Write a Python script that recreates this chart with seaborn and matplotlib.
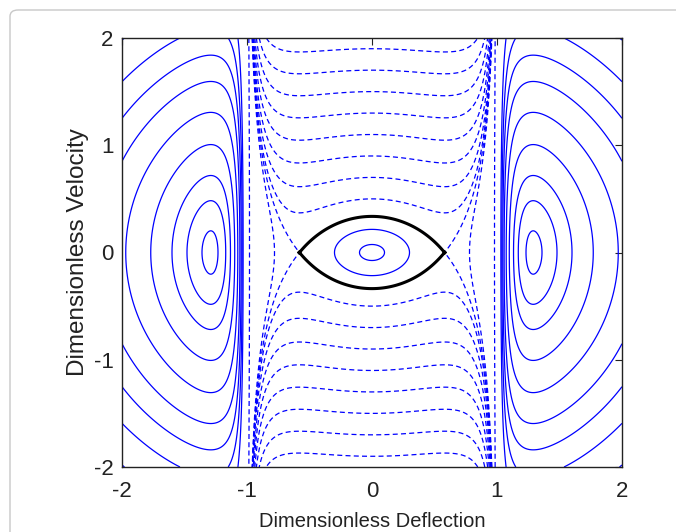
import numpy as np
import matplotlib
matplotlib.use("Agg")
import matplotlib.pyplot as plt
import seaborn as sns
from matplotlib.patches import FancyBboxPatch

# ---------------- data ----------------
x_label = "Dimensionless Deflection"
y_label = "Dimensionless Velocity"
deflection_ticks = [-2, -1, 0, 1, 2]
velocity_ticks = [-2, -1, 0, 1, 2]
x_limits = [-2, 2]
y_limits = [-2, 2]

# electrostatic strength in H = v^2/2 + x^2/2 - a/(1-x^2)
electro_a = 0.22
# orbits inside the separatrix, by crossing point on the deflection axis
inner_orbit_x0 = [0.1, 0.3]
# escaping trajectories, by velocity at zero deflection
escape_v0 = [0.5, 0.7, 0.9, 1.1, 1.3, 1.5, 1.7, 1.9]
# escaping trajectories, by crossing point on the deflection axis
escape_x0 = [0.78, 0.98]
# orbits beyond the electrodes, by outer crossing point on the deflection axis
outer_orbit_x0 = [1.36, 1.48, 1.60, 1.77, 1.97, 2.18, 2.37, 2.57, 2.83]

# ---------------- style ----------------
sns.set_style("white")
plt.rcParams["font.family"] = ["Liberation Sans", "DejaVu Sans"]
plt.rcParams["lines.dashed_pattern"] = [4.0, 2.6]
plt.rcParams["lines.scale_dashes"] = True


def potential(x):
    return x ** 2 / 2 - electro_a / (1 - x ** 2)


def energy(x, v):
    return v ** 2 / 2 + potential(x)


xs = np.linspace(-2.0, 2.0, 1201)
vs = np.linspace(-2.0, 2.0, 1001)
X, V = np.meshgrid(xs, vs)
H = energy(X, V)

x_saddle = np.sqrt(1 - np.sqrt(2 * electro_a))
H_saddle = potential(x_saddle)

H_inside = np.ma.masked_where(np.abs(X) >= 0.999, H)
H_outside = np.ma.masked_where(np.abs(X) <= 1.001, H)
H_well = np.ma.masked_where(np.abs(X) > x_saddle + 0.01, H)

inner_levels = sorted(potential(np.array(inner_orbit_x0)))
escape_levels = sorted(set(list(np.array(escape_v0) ** 2 / 2 - electro_a)
                           + list(potential(np.array(escape_x0)))
                           + [H_saddle]))
outer_levels = sorted(potential(np.array(outer_orbit_x0)))

fig = plt.figure(figsize=(6.76, 5.32), dpi=100)

# screenshot frame
frame = FancyBboxPatch((10 / 676, -0.2), 1.2, (522 / 532) + 0.2,
                       boxstyle="round,pad=0,rounding_size=0.012",
                       transform=fig.transFigure, facecolor="none",
                       edgecolor="#c8c8c8", linewidth=1.0)
fig.patches.append(frame)

ax = fig.add_axes([122 / 676, 65 / 532, 500 / 676, 429 / 532])

blue = "#0000ff"
ax.contour(X, V, H_outside, levels=outer_levels, colors=blue,
           linewidths=0.9, linestyles="solid")
ax.contour(X, V, H_well, levels=inner_levels, colors=blue,
           linewidths=0.9, linestyles="solid")
ax.contour(X, V, H_inside, levels=escape_levels, colors=blue,
           linewidths=0.9, linestyles="dashed")
ax.contour(X, V, H_well, levels=[H_saddle], colors="black",
           linewidths=2.2, linestyles="solid")

ax.set_xlim(x_limits)
ax.set_ylim(y_limits)
ax.set_xticks(deflection_ticks)
ax.set_yticks(velocity_ticks)
ax.set_xticklabels([str(t) for t in deflection_ticks])
ax.set_yticklabels([str(t) for t in velocity_ticks])
ax.tick_params(direction="in", length=5, width=0.8, top=True, right=True,
               labelsize=16, colors="#222222")
ax.tick_params(axis="x", pad=10)
ax.tick_params(axis="y", pad=6)
for s in ax.spines.values():
    s.set_visible(True)
    s.set_color("#222222")
    s.set_linewidth(1.0)

ax.set_xlabel(x_label, fontsize=14.5, color="#222222", labelpad=7)
ax.set_ylabel(y_label, fontsize=17.5, color="#222222")
ax.yaxis.set_label_coords(-0.066, 0.5)

fig.savefig("out.png", dpi=100)
